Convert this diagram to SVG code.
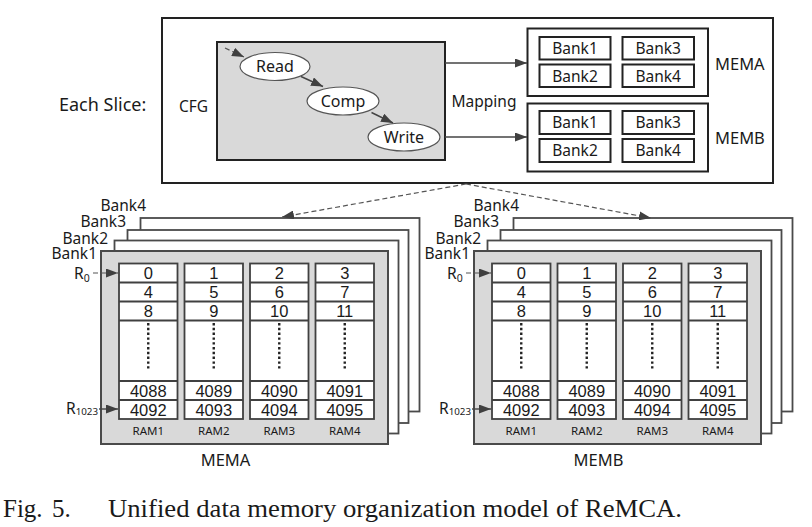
<svg xmlns="http://www.w3.org/2000/svg" width="812" height="527" viewBox="0 0 812 527">
<defs>
<style>
.t{font-family:"Noto Sans","Open Sans",sans-serif;fill:#1a1a1a}
.lbl{font-size:15.5px}
.num{font-family:"Liberation Sans",Arial,sans-serif;font-size:16.5px;text-anchor:middle;fill:#1a1a1a}
.ram{font-size:11.5px;text-anchor:middle}
.mid{text-anchor:middle}
.end{text-anchor:end}
.box{fill:#fff;stroke:#222;stroke-width:2}
.layer{fill:#fff;stroke:#4a4a4a;stroke-width:1.8}
.gray{fill:#d9d9d9;stroke:#4a4a4a;stroke-width:2}
.col{fill:#fff;stroke:#404040;stroke-width:1.8}
.rl{stroke:#404040;stroke-width:1.8}
.dots{stroke:#222;stroke-width:2.4;stroke-dasharray:2.4 2.4}
.ell{fill:#fff;stroke:#555;stroke-width:1.2}
.arr{stroke:#444;stroke-width:1.4;fill:none;marker-end:url(#ah)}
.dash{stroke:#555;stroke-width:1.2;fill:none;stroke-dasharray:5 3;marker-end:url(#ah)}
.cap{font-family:"Liberation Serif","Times New Roman",serif;font-size:25px;fill:#1a1a1a}
</style>
<marker id="ah" viewBox="0 0 12 9" refX="12" refY="4.5" markerWidth="12" markerHeight="9" markerUnits="userSpaceOnUse" orient="auto">
<path d="M0,0 L12,4.5 L0,9 z" fill="#404040"/>
</marker>
<g id="stack">
<rect class="layer" x="140.5" y="218" width="279" height="193.5"/>
<rect class="layer" x="127.5" y="230" width="281" height="193"/>
<rect class="layer" x="114.5" y="240.5" width="284" height="193"/>
<rect class="gray" x="101" y="251" width="287" height="193"/>
<text class="t lbl end" x="146" y="210.5">Bank4</text>
<text class="t lbl end" x="126" y="227">Bank3</text>
<text class="t lbl end" x="108" y="243.5">Bank2</text>
<text class="t lbl end" x="97" y="259">Bank1</text>
<text class="t" x="74" y="279" font-size="15.5">R<tspan font-size="10.5" dy="3">0</tspan></text>
<line class="dash" x1="93" y1="273" x2="118" y2="273"/>
<text class="t" x="66" y="413.5" font-size="15.5">R<tspan font-size="9.8" dy="1.5">1023</tspan></text>
<line class="arr" x1="99" y1="409" x2="118" y2="409"/>
</g>
<g id="ramcol">
<rect class="col" x="0" y="263.5" width="58.5" height="155.5"/>
<line class="rl" x1="0" y1="282.5" x2="58.5" y2="282.5"/>
<line class="rl" x1="0" y1="301.5" x2="58.5" y2="301.5"/>
<line class="rl" x1="0" y1="320.5" x2="58.5" y2="320.5"/>
<line class="rl" x1="0" y1="381" x2="58.5" y2="381"/>
<line class="rl" x1="0" y1="400" x2="58.5" y2="400"/>
<line class="dots" x1="29.25" y1="323" x2="29.25" y2="370"/>
</g>
</defs>

<g id="slice">
<rect class="box" x="162" y="18" width="611" height="165"/>
<text class="t" x="59" y="110.5" font-size="18">Each Slice:</text>
<text class="t" x="179" y="112" font-size="15.5">CFG</text>
<text class="t" x="451.5" y="106.5" font-size="15.5">Mapping</text>
</g>

<g id="cfg">
<rect x="217" y="42" width="228" height="118" fill="#d9d9d9" stroke="#222" stroke-width="2"/>
</g>
<g id="read">
<ellipse class="ell" cx="275" cy="66.5" rx="35" ry="14"/>
<text class="t mid" x="275" y="72" font-size="16">Read</text>
</g>
<g id="comp">
<ellipse class="ell" cx="343" cy="101" rx="36" ry="14"/>
<text class="t mid" x="343" y="106.5" font-size="16">Comp</text>
</g>
<g id="write">
<ellipse class="ell" cx="404" cy="137" rx="36" ry="14"/>
<text class="t mid" x="404" y="142.5" font-size="16">Write</text>
</g>

<g id="mema-top">
<rect class="box" x="527.5" y="28.5" width="180.5" height="67.5"/>
<rect class="box" x="539.5" y="37" width="71" height="22.5"/>
<rect class="box" x="622.5" y="37" width="71.5" height="22.5"/>
<rect class="box" x="539.5" y="64.5" width="71" height="22.5"/>
<rect class="box" x="622.5" y="64.5" width="71.5" height="22.5"/>
<text class="t lbl mid" x="575" y="54">Bank1</text>
<text class="t lbl mid" x="658.2" y="54">Bank3</text>
<text class="t lbl mid" x="575" y="81.5">Bank2</text>
<text class="t lbl mid" x="658.2" y="81.5">Bank4</text>
<text class="t" x="715" y="70" font-size="16.5">MEMA</text>
</g>
<g id="memb-top">
<rect class="box" x="527.5" y="103.5" width="180.5" height="68"/>
<rect class="box" x="539.5" y="111" width="71" height="23"/>
<rect class="box" x="622.5" y="111" width="71.5" height="23"/>
<rect class="box" x="539.5" y="139" width="71" height="23"/>
<rect class="box" x="622.5" y="139" width="71.5" height="23"/>
<text class="t lbl mid" x="575" y="128">Bank1</text>
<text class="t lbl mid" x="658.2" y="128">Bank3</text>
<text class="t lbl mid" x="575" y="156">Bank2</text>
<text class="t lbl mid" x="658.2" y="156">Bank4</text>
<text class="t" x="715" y="144" font-size="16.5">MEMB</text>
</g>

<g id="mema-stack">
<use href="#stack"/>
<use href="#ramcol" x="119"/>
<use href="#ramcol" x="184.5"/>
<use href="#ramcol" x="250"/>
<use href="#ramcol" x="315.5"/>
<g class="num">
<text x="148.25" y="279">0</text><text x="213.75" y="279">1</text><text x="279.25" y="279">2</text><text x="344.75" y="279">3</text>
<text x="148.25" y="298">4</text><text x="213.75" y="298">5</text><text x="279.25" y="298">6</text><text x="344.75" y="298">7</text>
<text x="148.25" y="317">8</text><text x="213.75" y="317">9</text><text x="279.25" y="317">10</text><text x="344.75" y="317">11</text>
<text x="148.25" y="396.5">4088</text><text x="213.75" y="396.5">4089</text><text x="279.25" y="396.5">4090</text><text x="344.75" y="396.5">4091</text>
<text x="148.25" y="415.5">4092</text><text x="213.75" y="415.5">4093</text><text x="279.25" y="415.5">4094</text><text x="344.75" y="415.5">4095</text>
</g>
<g class="t ram">
<text x="148.25" y="435">RAM1</text><text x="213.75" y="435">RAM2</text><text x="279.25" y="435">RAM3</text><text x="344.75" y="435">RAM4</text>
</g>
<text class="t mid" x="225.5" y="465.5" font-size="16.5">MEMA</text>
</g>

<g id="memb-stack">
<use href="#stack" x="373"/>
<use href="#ramcol" x="492"/>
<use href="#ramcol" x="557.5"/>
<use href="#ramcol" x="623"/>
<use href="#ramcol" x="688.5"/>
<g class="num">
<text x="521.25" y="279">0</text><text x="586.75" y="279">1</text><text x="652.25" y="279">2</text><text x="717.75" y="279">3</text>
<text x="521.25" y="298">4</text><text x="586.75" y="298">5</text><text x="652.25" y="298">6</text><text x="717.75" y="298">7</text>
<text x="521.25" y="317">8</text><text x="586.75" y="317">9</text><text x="652.25" y="317">10</text><text x="717.75" y="317">11</text>
<text x="521.25" y="396.5">4088</text><text x="586.75" y="396.5">4089</text><text x="652.25" y="396.5">4090</text><text x="717.75" y="396.5">4091</text>
<text x="521.25" y="415.5">4092</text><text x="586.75" y="415.5">4093</text><text x="652.25" y="415.5">4094</text><text x="717.75" y="415.5">4095</text>
</g>
<g class="t ram">
<text x="521.25" y="435">RAM1</text><text x="586.75" y="435">RAM2</text><text x="652.25" y="435">RAM3</text><text x="717.75" y="435">RAM4</text>
</g>
<text class="t mid" x="598.5" y="465.5" font-size="16.5">MEMB</text>
</g>

<g id="connectors">
<line class="dash" x1="225" y1="48" x2="244" y2="57"/>
<line class="arr" x1="301" y1="76.5" x2="323" y2="86.5"/>
<line class="arr" x1="371.5" y1="112.5" x2="393" y2="123"/>
<line class="arr" x1="445" y1="63" x2="527" y2="63"/>
<line class="arr" x1="445" y1="137" x2="527" y2="137"/>
<line class="dash" x1="466" y1="184" x2="282" y2="217"/>
<line class="dash" x1="466" y1="184" x2="651" y2="218"/>
</g>

<text class="cap" y="516.5"><tspan x="3">Fig.</tspan><tspan x="52">5.</tspan><tspan x="108" textLength="574" lengthAdjust="spacingAndGlyphs">Unified data memory organization model of ReMCA.</tspan></text>
</svg>
